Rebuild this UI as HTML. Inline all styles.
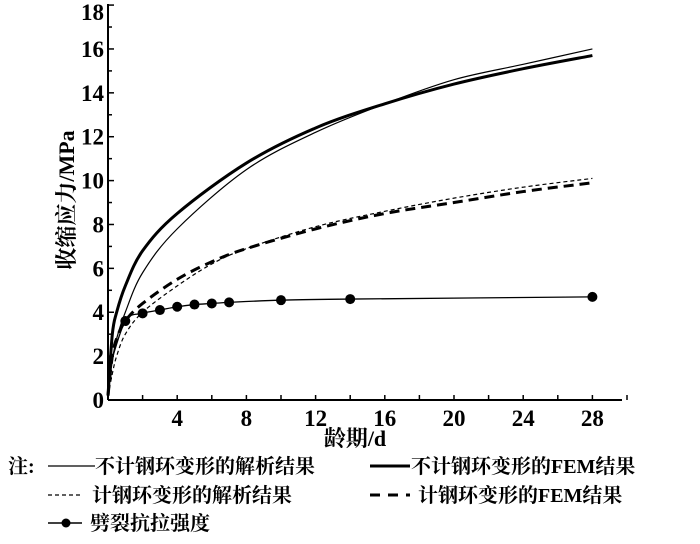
<!DOCTYPE html>
<html><head><meta charset="utf-8"><style>
body{margin:0;background:#fff}
svg text{font-family:"Liberation Serif","Noto Serif CJK SC",serif;fill:#000}
</style></head><body>
<svg width="700" height="539" viewBox="0 0 700 539">
<g id="axes"></g>
<g id="plot"></g>
<text x="74" y="200" font-size="22" font-weight="bold" text-anchor="middle" transform="rotate(-90 74 200)">收缩应力/MPa</text>
<text x="355" y="446" font-size="22" font-weight="bold" text-anchor="middle">龄期/d</text>
<g font-size="20" font-weight="bold">
<text x="8" y="473">注:</text>
<line x1="48" y1="466" x2="95" y2="466" stroke="#000" stroke-width="1.2"/>
<text x="95" y="473">不计钢环变形的解析结果</text>
<line x1="370" y1="466" x2="410" y2="466" stroke="#000" stroke-width="3"/>
<text x="411" y="473">不计钢环变形的FEM结果</text>
<line x1="48" y1="495" x2="82" y2="495" stroke="#000" stroke-width="1.2" stroke-dasharray="4,3"/>
<text x="92" y="502">计钢环变形的解析结果</text>
<line x1="370" y1="495" x2="410" y2="495" stroke="#000" stroke-width="3" stroke-dasharray="10,8"/>
<text x="418" y="502">计钢环变形的FEM结果</text>
<line x1="48" y1="523" x2="82" y2="523" stroke="#000" stroke-width="1.5"/>
<circle cx="66" cy="523" r="4.5" fill="#000"/>
<text x="90" y="530">劈裂抗拉强度</text>
</g>
</svg>
<script>
const thickX=[0,0.25,0.5,1,2,4,8,12,16,20,24,28];
const thickY=[0.2,3.0,4.0,5.2,6.8,8.5,10.8,12.4,13.5,14.4,15.1,15.7];
const thinX=[0,0.25,0.5,1,2,4,8,12,16,20,24,28];
const thinY=[0.2,1.8,2.8,4.0,5.8,7.8,10.5,12.2,13.5,14.6,15.3,16.0];
const dThickX=[0,0.25,0.5,1,2,4,6,8,12,16,20,24,28];
const dThickY=[0.2,2.0,2.8,3.6,4.4,5.5,6.3,6.9,7.8,8.5,9.0,9.5,9.9];
const dThinX=[0,0.25,0.5,1,2,4,6,8,12,16,20,24,28];
const dThinY=[0.2,1.2,2.0,3.0,4.0,5.2,6.2,6.9,7.9,8.6,9.2,9.7,10.1];
const ptX=[1,2,3,4,5,6,7,10,14,28];
const ptY=[3.6,3.95,4.1,4.25,4.35,4.4,4.45,4.55,4.6,4.7];
const xTicks=[4,8,12,16,20,24,28];
const yTicks=[0,2,4,6,8,10,12,14,16,18];
const NS="http://www.w3.org/2000/svg";
const sx=v=>108+v*17.3, sy=v=>400-v*21.94;
function mk(t,a,p){const e=document.createElementNS(NS,t);for(const k in a)e.setAttribute(k,a[k]);p.appendChild(e);return e;}
const ax=document.getElementById('axes'),pl=document.getElementById('plot');
let e=mk('line',{x1:108,y1:400,x2:622,y2:400,stroke:'#000','stroke-width':2},ax);

e=mk('line',{x1:108,y1:4,x2:108,y2:400,stroke:'#000','stroke-width':2},ax);

for(let v=2;v<=30;v+=2){mk('line',{x1:sx(v),y1:400,x2:sx(v),y2:395,stroke:'#000','stroke-width':1.5},ax);}
for(let v=1;v<=18;v++){mk('line',{x1:108,y1:sy(v),x2:v%2?112:114,y2:sy(v),stroke:'#000','stroke-width':1.5},ax);}
xTicks.forEach(v=>{e=mk('text',{x:sx(v),y:426,'font-size':23,'font-weight':'bold','text-anchor':'middle'},ax);e.textContent=v;
});
yTicks.forEach(v=>{e=mk('text',{x:104,y:Math.max(sy(v),12)+8,'font-size':23,'font-weight':'bold','text-anchor':'end'},ax);e.textContent=v;
});
function path(X,Y){const p=X.map((x,i)=>[sx(x),sy(Y[i])]);let d='M'+p[0];
for(let i=0;i<p.length-1;i++){const p0=p[Math.max(0,i-1)],p1=p[i],p2=p[i+1],p3=p[Math.min(p.length-1,i+2)];
const c1=[p1[0]+(p2[0]-p0[0])/6,p1[1]+(p2[1]-p0[1])/6],c2=[p2[0]-(p3[0]-p1[0])/6,p2[1]-(p3[1]-p1[1])/6];
d+='C'+c1+' '+c2+' '+p2;}return d;}
e=mk('path',{d:path(thinX,thinY),fill:'none',stroke:'#000','stroke-width':1.2},pl);

e=mk('path',{d:path(thickX,thickY),fill:'none',stroke:'#000','stroke-width':3},pl);

e=mk('path',{d:path(dThinX,dThinY),fill:'none',stroke:'#000','stroke-width':1.2,'stroke-dasharray':'4,3'},pl);

e=mk('path',{d:path(dThickX,dThickY),fill:'none',stroke:'#000','stroke-width':3,'stroke-dasharray':'10,6'},pl);

e=mk('path',{d:path([0.1].concat(ptX),[1.5].concat(ptY)),fill:'none',stroke:'#000','stroke-width':1.3},pl);

ptX.forEach((x,i)=>{e=mk('circle',{cx:sx(x),cy:sy(ptY[i]),r:5,fill:'#000'},pl);
});
</script>
</body></html>
